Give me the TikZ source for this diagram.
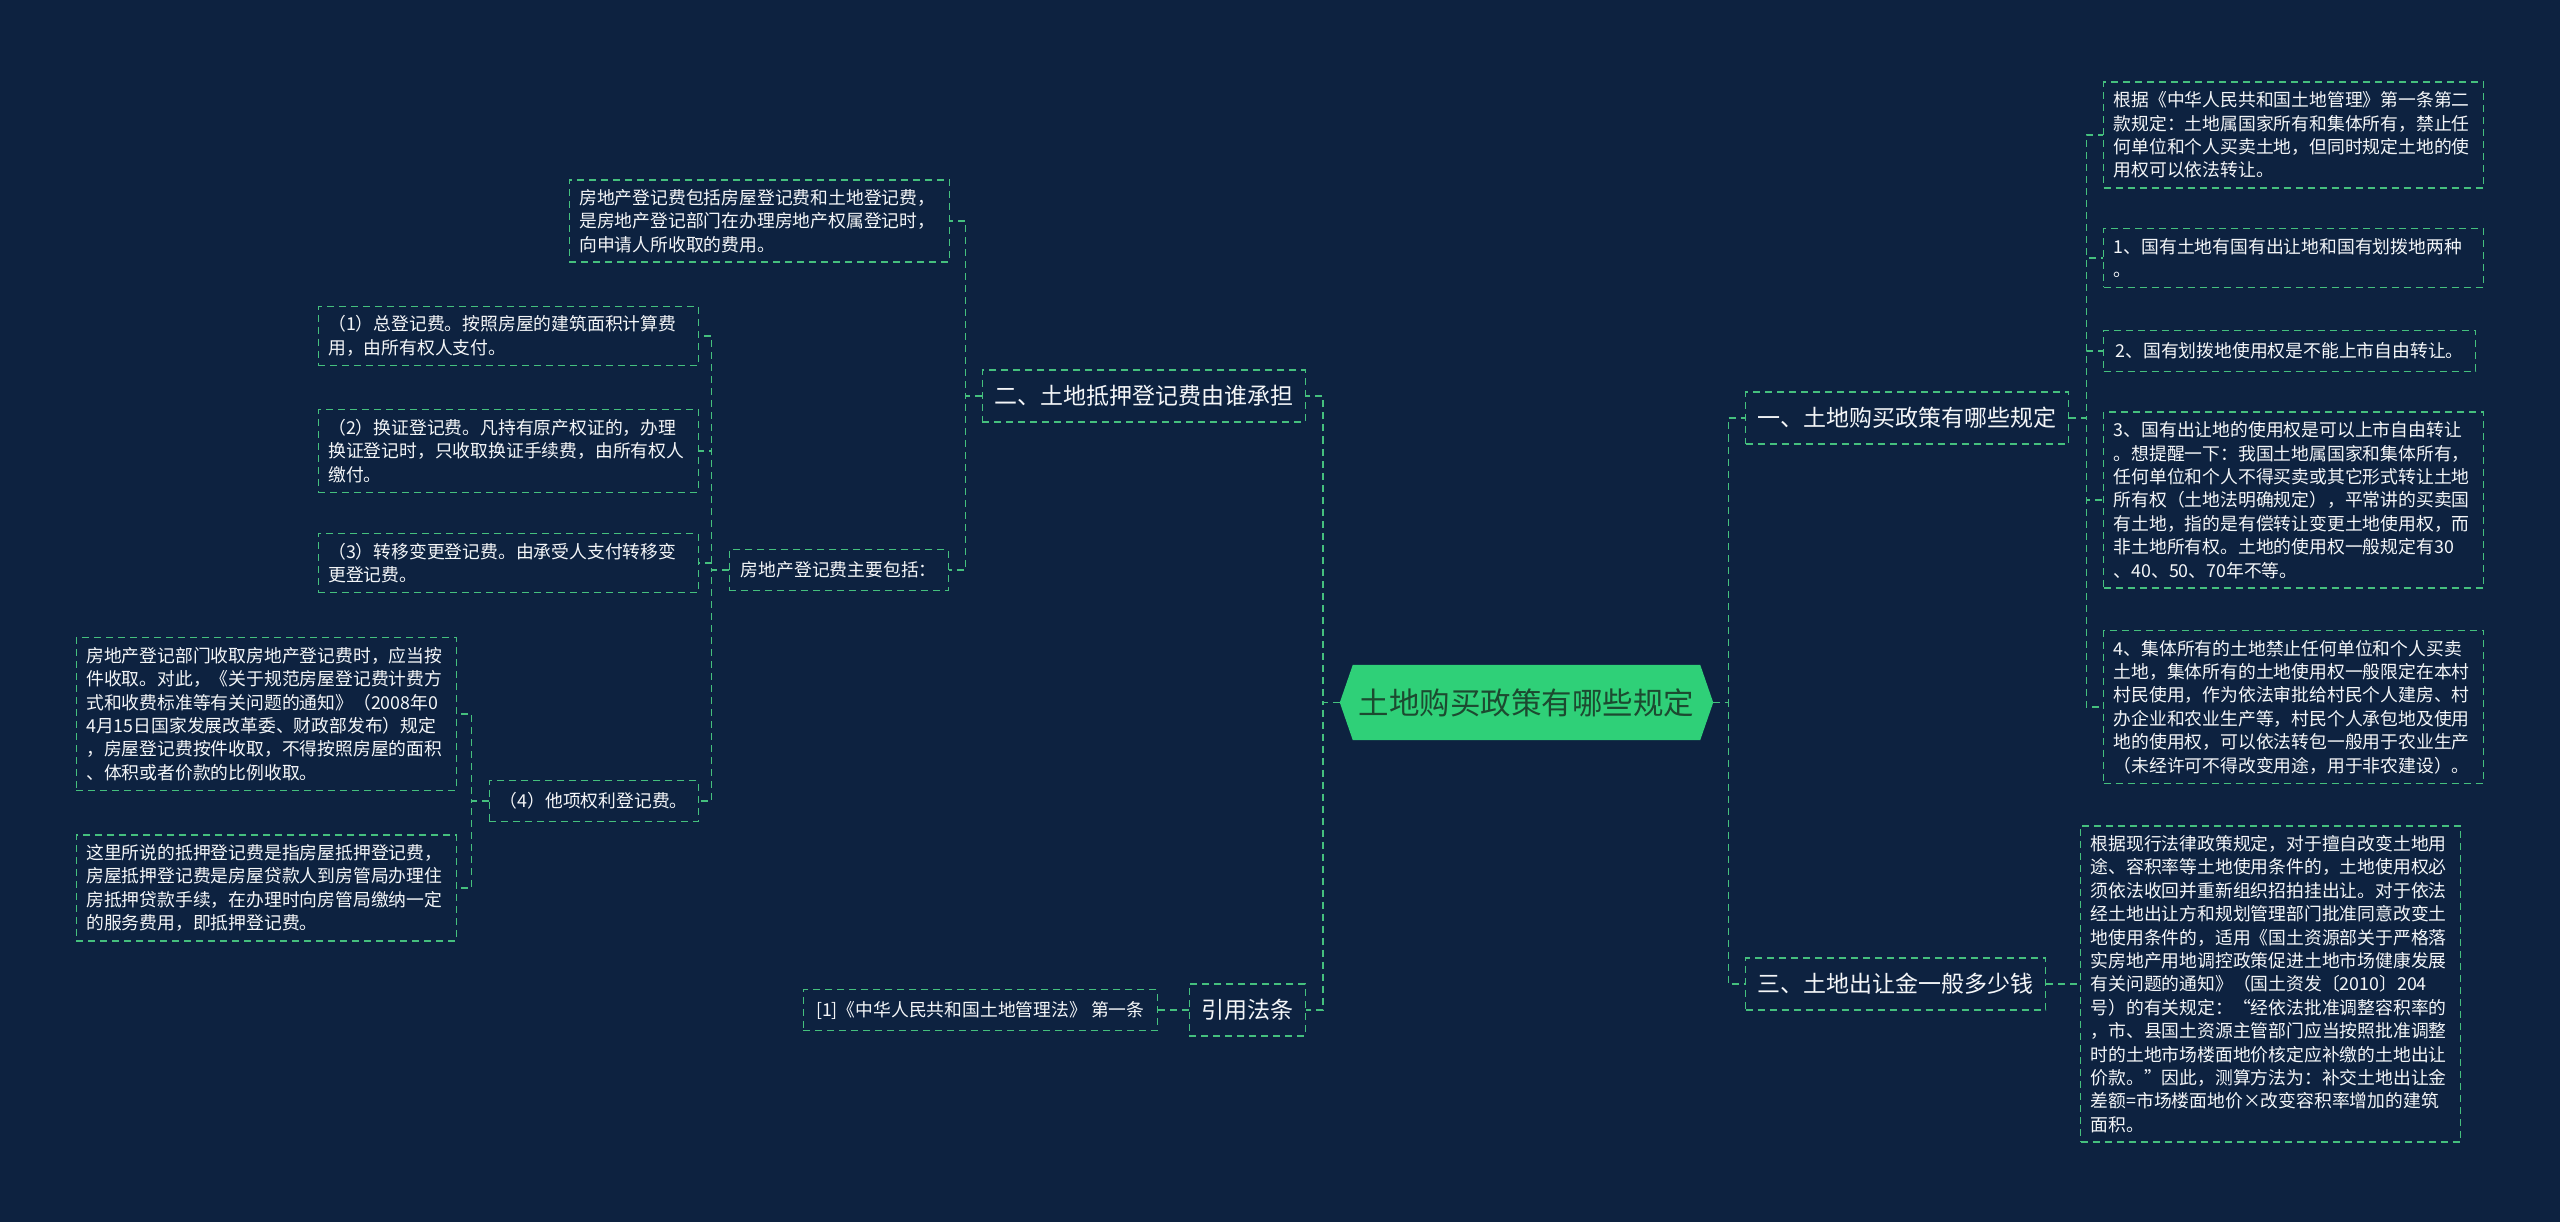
\documentclass[tikz,border=0pt]{standalone}
\usepackage{fontspec}
\setmainfont{Noto Sans CJK SC}
\usetikzlibrary{backgrounds}
\definecolor{bgc}{HTML}{0D2240}
\definecolor{lc}{HTML}{45C07E}
\definecolor{cfill}{HTML}{2FD078}
\definecolor{ctext}{HTML}{1C4A30}
\definecolor{tc}{HTML}{F4F6F8}
\begin{document}
\begin{tikzpicture}[x=1pt,y=-1pt,
  conn/.style={draw=lc, line width=1.4pt, dash pattern=on 7pt off 5pt},
  box/.style={draw=lc, line width=1.4pt, dash pattern=on 7pt off 5pt, text=tc, align=left,
    inner xsep=10pt, inner ysep=9.5pt, font=\fontsize{17.8}{23.4}\selectfont},
  wide/.style={box, text width=360pt},
  one/.style={box, minimum height=41pt},
  branch/.style={draw=lc, line width=1.4pt, dash pattern=on 7pt off 5pt, text=tc,
    inner xsep=12pt, inner ysep=0pt, minimum height=52pt, font=\fontsize{23}{28}\selectfont},
  centre/.style={inner sep=0pt, minimum width=347pt, minimum height=75pt, text=ctext,
    font=\fontsize{30.5}{36}\selectfont},
]
\useasboundingbox (0,0) rectangle (2560,1222);

% central topic
\node[centre] (c) at (1526.5,702.5) {土地购买政策有哪些规定};
\coordinate (cw) at ([xshift=-13pt]c.west);
\coordinate (ce) at ([xshift=13pt]c.east);

\begin{scope}[on background layer]
\fill[bgc] (0,0) rectangle (2560,1222);
\fill[cfill] (cw) -- (c.north west) -- (c.north east) -- (ce) -- (c.south east) -- (c.south west) -- cycle;
\end{scope}

% branches
\node[branch, anchor=west] (b1) at (1745,418) {一、土地购买政策有哪些规定};
\node[branch, anchor=west] (b3) at (1745,984) {三、土地出让金一般多少钱};
\node[branch, anchor=east] (b2) at (1306,396) {二、土地抵押登记费由谁承担};
\node[branch, anchor=east] (b4) at (1306,1010) {引用法条};

% right leaves
\node[wide, anchor=west] (r1) at (2103,135) {根据《中华人民共和国土地管理》第一条第二\\款规定：土地属国家所有和集体所有，禁止任\\何单位和个人买卖土地，但同时规定土地的使\\用权可以依法转让。};
\node[wide, anchor=west] (r2) at (2103,258) {1、国有土地有国有出让地和国有划拨地两种\\。};
\node[one, anchor=west, minimum width=372pt] (r3) at (2103,351) {2、国有划拨地使用权是不能上市自由转让。};
\node[wide, anchor=west] (r4) at (2103,500) {3、国有出让地的使用权是可以上市自由转让\\。想提醒一下：我国土地属国家和集体所有，\\任何单位和个人不得买卖或其它形式转让土地\\所有权（土地法明确规定），平常讲的买卖国\\有土地，指的是有偿转让变更土地使用权，而\\非土地所有权。土地的使用权一般规定有30\\、40、50、70年不等。};
\node[wide, anchor=west] (r5) at (2103,707) {4、集体所有的土地禁止任何单位和个人买卖\\土地，集体所有的土地使用权一般限定在本村\\村民使用，作为依法审批给村民个人建房、村\\办企业和农业生产等，村民个人承包地及使用\\地的使用权，可以依法转包一般用于农业生产\\（未经许可不得改变用途，用于非农建设）。};
\node[wide, anchor=west] (r6) at (2080,984) {根据现行法律政策规定，对于擅自改变土地用\\途、容积率等土地使用条件的，土地使用权必\\须依法收回并重新组织招拍挂出让。对于依法\\经土地出让方和规划管理部门批准同意改变土\\地使用条件的，适用《国土资源部关于严格落\\实房地产用地调控政策促进土地市场健康发展\\有关问题的通知》（国土资发〔2010〕204\\号）的有关规定：“经依法批准调整容积率的\\，市、县国土资源主管部门应当按照批准调整\\时的土地市场楼面地价核定应补缴的土地出让\\价款。”因此，测算方法为：补交土地出让金\\差额=市场楼面地价×改变容积率增加的建筑\\面积。};

% left leaves
\node[wide, anchor=east] (a1) at (950,221) {房地产登记费包括房屋登记费和土地登记费，\\是房地产登记部门在办理房地产权属登记时，\\向申请人所收取的费用。};
\node[one, anchor=east, minimum width=219pt] (a2) at (949,570) {房地产登记费主要包括：};
\node[wide, anchor=east] (p1) at (699,336) {（1）总登记费。按照房屋的建筑面积计算费\\用，由所有权人支付。};
\node[wide, anchor=east] (p2) at (699,451) {（2）换证登记费。凡持有原产权证的，办理\\换证登记时，只收取换证手续费，由所有权人\\缴付。};
\node[wide, anchor=east] (p3) at (699,563) {（3）转移变更登记费。由承受人支付转移变\\更登记费。};
\node[one, anchor=east, minimum width=209pt] (p4) at (699,801) {（4）他项权利登记费。};
\node[wide, anchor=east] (q1) at (457,714) {房地产登记部门收取房地产登记费时，应当按\\件收取。对此，《关于规范房屋登记费计费方\\式和收费标准等有关问题的通知》（2008年0\\4月15日国家发展改革委、财政部发布）规定\\，房屋登记费按件收取，不得按照房屋的面积\\、体积或者价款的比例收取。};
\node[wide, anchor=east] (q2) at (457,888) {这里所说的抵押登记费是指房屋抵押登记费，\\房屋抵押登记费是房屋贷款人到房管局办理住\\房抵押贷款手续，在办理时向房管局缴纳一定\\的服务费用，即抵押登记费。};
\node[one, anchor=east, minimum width=354pt] (cite) at (1158,1010) {[1]《中华人民共和国土地管理法》 第一条};

% connectors
\draw[conn] (cw) -- ++(-17,0) |- (b2.east);
\draw[conn] (cw) -- ++(-17,0) |- (b4.east);
\draw[conn] (ce) -- ++(15,0) |- (b1.west);
\draw[conn] (ce) -- ++(15,0) |- (b3.west);
\foreach \n in {r1,r2,r3,r4,r5} \draw[conn] (b1.east) -- ++(17,0) |- (\n.west);
\draw[conn] (b3.east) -- (r6.west);
\foreach \n in {a1,a2} \draw[conn] (b2.west) -- ++(-16,0) |- (\n.east);
\foreach \n in {p1,p2,p3,p4} \draw[conn] (a2.west) -- ++(-17,0) |- (\n.east);
\foreach \n in {q1,q2} \draw[conn] (p4.west) -- ++(-17,0) |- (\n.east);
\draw[conn] (b4.west) -- (cite.east);
\end{tikzpicture}
\end{document}
